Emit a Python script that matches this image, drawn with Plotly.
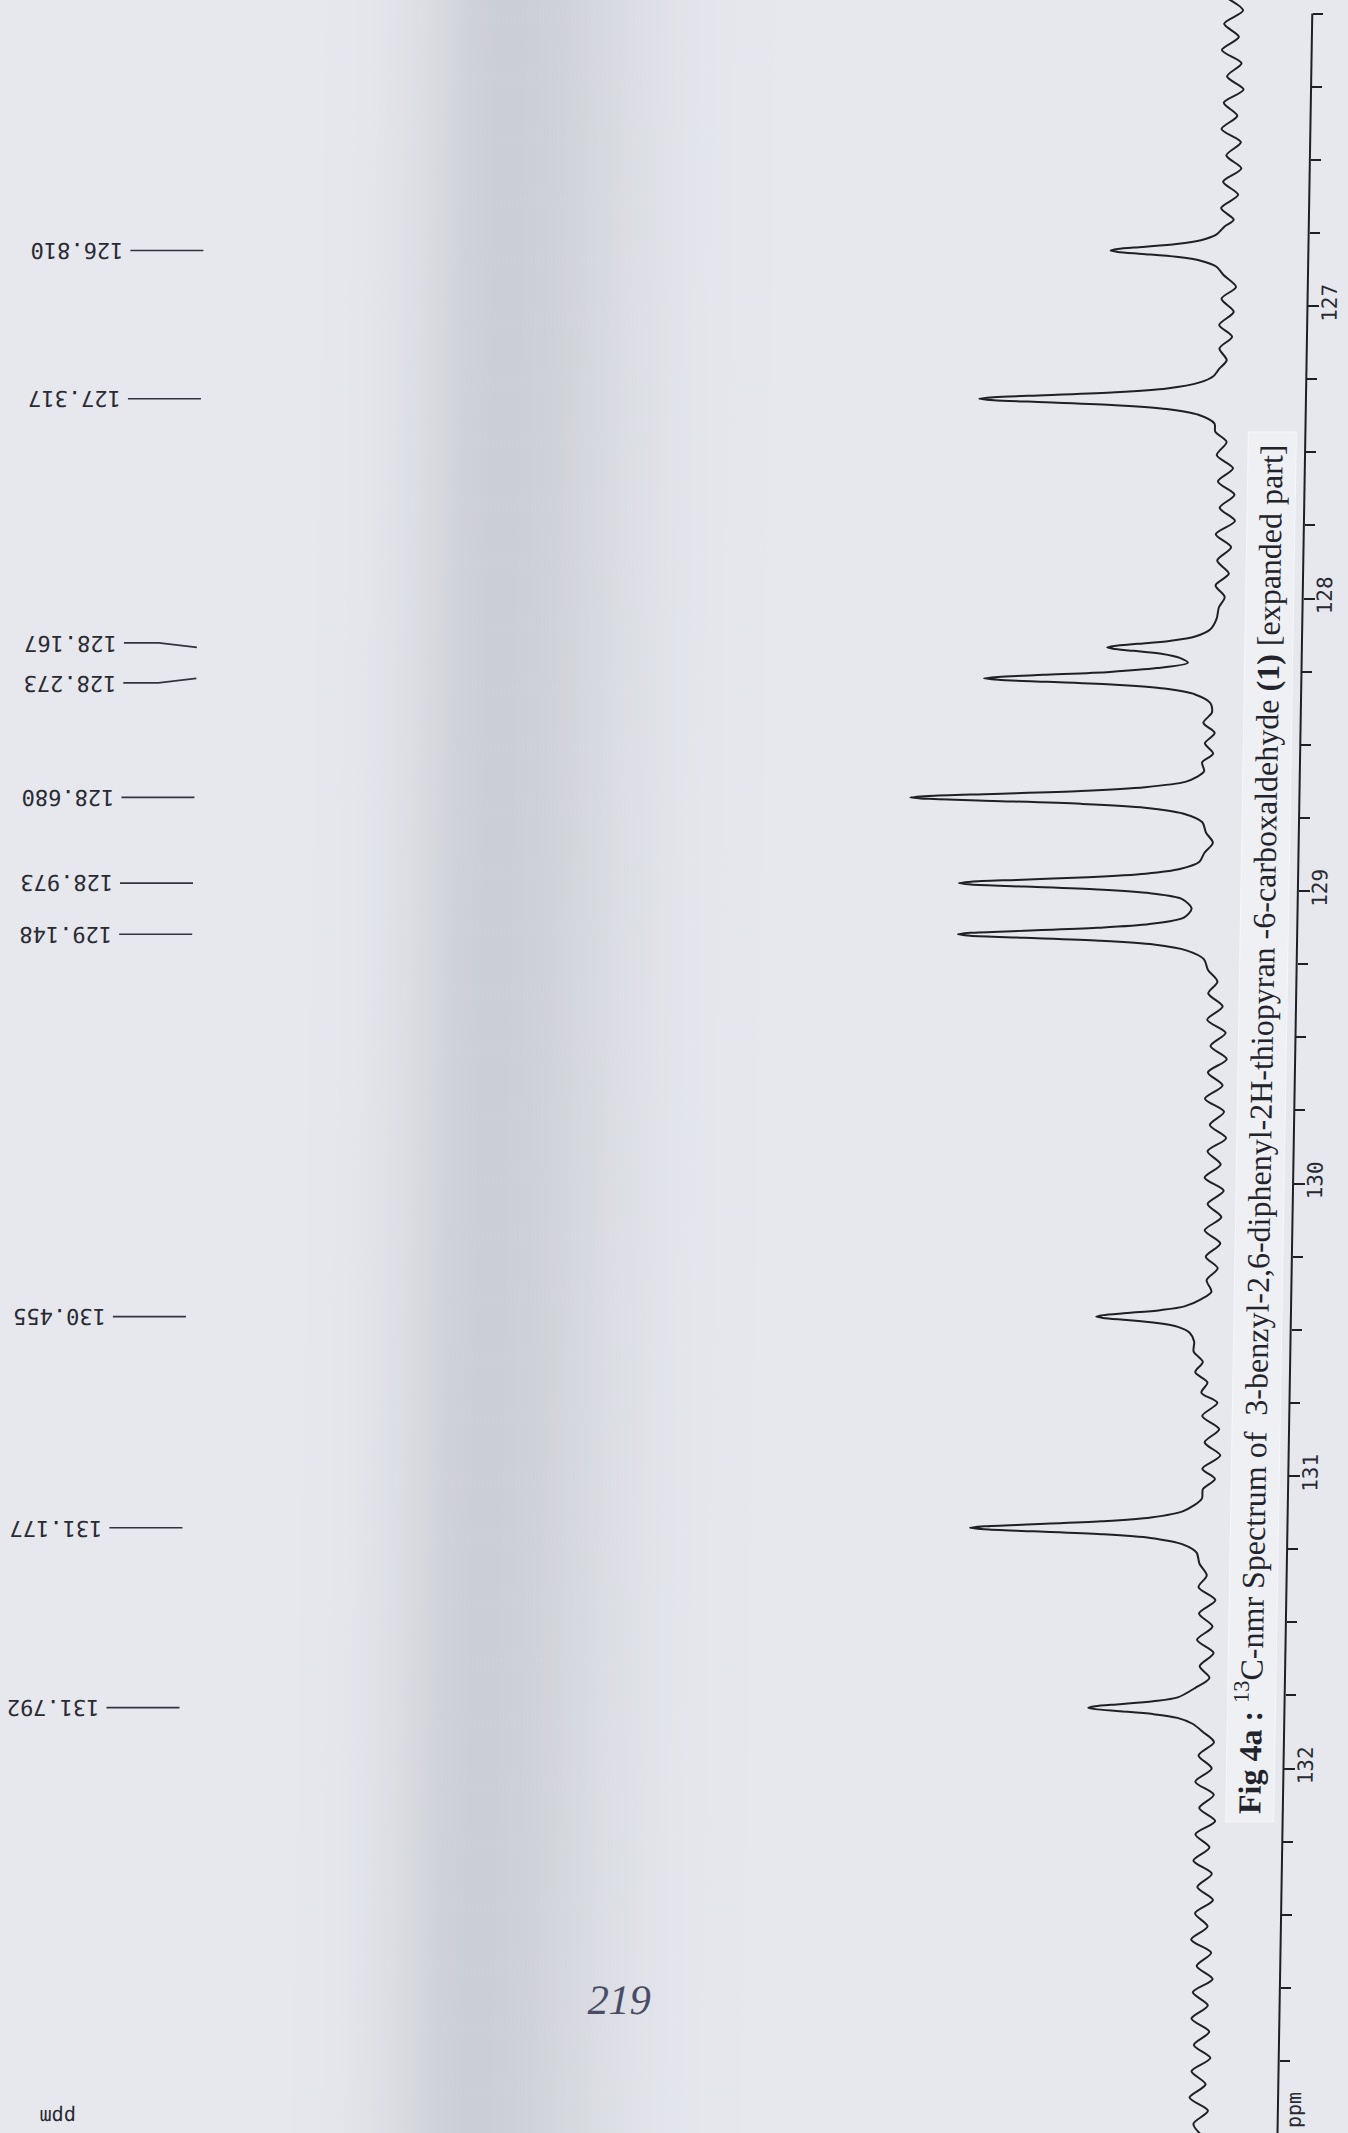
import math
import plotly.graph_objects as go

# ---------------------------------------------------------------------------
# 13C spectrum trace (expanded aromatic region): chemical shift / intensity
# ---------------------------------------------------------------------------
shift_ppm = [
    # 125.95 - 126.70 baseline
    125.950, 125.990, 126.035, 126.080, 126.125, 126.170, 126.215, 126.260, 126.305,
    126.350, 126.395, 126.440, 126.485, 126.530, 126.575, 126.620, 126.665, 126.705,
    # 126.810
    126.728, 126.755, 126.775, 126.788, 126.798, 126.805, 126.810, 126.815, 126.822,
    126.832, 126.845, 126.865, 126.895,
    # baseline
    126.935, 126.975, 127.020, 127.065, 127.105, 127.145, 127.185, 127.215, 127.240,
    # 127.317
    127.262, 127.282, 127.295, 127.305, 127.312, 127.317, 127.322, 127.329, 127.339,
    127.352, 127.372, 127.402,
    # baseline
    127.430, 127.465, 127.510, 127.555, 127.600, 127.645, 127.690, 127.735, 127.780,
    127.825, 127.870, 127.915, 127.955, 127.995, 128.030, 128.070,
    # 128.167 / 128.273
    128.105, 128.130, 128.145, 128.155, 128.162, 128.167, 128.172, 128.179, 128.189,
    128.203, 128.220, 128.238, 128.251, 128.261, 128.268, 128.273, 128.278, 128.285,
    128.295, 128.308, 128.328, 128.358,
    # raised region
    128.390, 128.425, 128.460, 128.495, 128.530, 128.560, 128.590, 128.610,
    # 128.680
    128.627, 128.645, 128.658, 128.668, 128.675, 128.680, 128.685, 128.692, 128.702,
    128.715, 128.735, 128.765,
    # valley
    128.800, 128.835, 128.870, 128.900,
    # 128.973 / 129.148
    128.925, 128.941, 128.953, 128.962, 128.968, 128.973, 128.978, 128.985, 128.995,
    129.008, 129.028, 129.060, 129.090, 129.113, 129.126, 129.136, 129.143, 129.148,
    129.153, 129.160, 129.170, 129.183, 129.203, 129.233, 129.270,
    # baseline
    129.310, 129.350, 129.395, 129.440, 129.485, 129.530, 129.575, 129.620, 129.665,
    129.710, 129.755, 129.800, 129.845, 129.890, 129.935, 129.980, 130.025, 130.070,
    130.115, 130.160, 130.205, 130.250, 130.290, 130.330, 130.370,
    # 130.455
    130.395, 130.420, 130.433, 130.443, 130.450, 130.455, 130.460, 130.467, 130.477,
    130.490, 130.510, 130.540,
    # baseline
    130.575, 130.610, 130.645, 130.680, 130.715, 130.750, 130.795, 130.840, 130.885,
    130.930, 130.975, 131.010, 131.045, 131.078,
    # 131.177
    131.120, 131.142, 131.155, 131.165, 131.172, 131.177, 131.182, 131.189, 131.199,
    131.212, 131.234, 131.262, 131.300,
    # baseline
    131.340, 131.380, 131.425, 131.470, 131.515, 131.560, 131.605, 131.650, 131.690,
    131.725,
    # 131.792
    131.757, 131.770, 131.780, 131.787, 131.792, 131.797, 131.804, 131.814, 131.827,
    131.847, 131.875,
    # baseline to end of sweep
    131.910, 131.955, 132.000, 132.045, 132.090, 132.135, 132.180, 132.225, 132.270,
    132.315, 132.360, 132.405, 132.450, 132.495, 132.540, 132.585, 132.630, 132.675,
    132.720, 132.765, 132.810, 132.855, 132.900, 132.945, 132.990, 133.035, 133.080,
    133.125, 133.170, 133.215, 133.260,
]

intensity = [
    2.0, -2.8, 3.2, -1.6, 3.8, -2.6, 2.0, -3.4, 2.9,
    -1.5, 3.5, -2.8, 1.8, -3.1, 2.7, -2.2, 3.2, -0.9,
    2.0, 4.5, 9.5, 17.4, 28.3, 36.2, 38.5, 36.2, 28.3,
    17.4, 9.5, 4.5, 2.0,
    -2.0, 2.6, -1.4, 3.2, -1.0, 3.0, 0.6, 3.0, 4.8,
    9.4, 19.7, 36.2, 58.8, 75.3, 80.0, 75.3, 58.8, 36.2,
    19.7, 9.4, 4.2,
    3.9, 0.2, 3.3, -2.0, 2.8, -2.6, 2.1, -2.9, 3.2,
    -1.8, 2.6, -1.2, 3.0, 0.0, 1.8, 2.5,
    4.4, 9.3, 17.5, 27.7, 35.2, 37.5, 35.7, 29.0, 20.1,
    14.1, 11.5, 21.5, 36.5, 57.9, 72.4, 77.0, 72.4, 56.6,
    34.8, 18.9, 9.0, 4.0,
    3.5, 6.2, 2.5, 5.6, 2.9, 6.4, 5.7, 8.0,
    11.7, 24.6, 45.2, 73.5, 94.1, 100.0, 94.1, 73.5, 45.2,
    24.6, 12.3, 6.0,
    4.8, 2.5, 5.2, 6.7,
    13.0, 24.0, 42.5, 65.5, 80.0, 84.0, 80.0, 63.0, 39.4,
    22.4, 12.1, 9.0, 11.3, 22.4, 39.3, 62.8, 80.0, 84.0,
    80.0, 62.5, 38.5, 21.0, 10.5, 4.8, 3.4,
    0.3, 3.2, -1.5, 3.4, -2.6, 2.2, -3.1, 2.9, -1.9,
    3.7, -2.5, 2.0, -3.3, 2.6, -1.7, 3.4, -2.8, 2.3,
    -2.2, 3.1, -2.0, 2.6, -1.3, 2.2, 0.6,
    3.8, 9.2, 17.0, 27.6, 35.3, 37.5, 35.3, 27.6, 18.0,
    11.2, 7.4, 5.9,
    6.0, 3.0, 5.4, 1.4, 3.3, -1.9, 2.9, -2.6, 2.0,
    -3.1, 2.6, -1.5, 2.3, 2.6,
    8.5, 18.9, 34.8, 56.6, 72.4, 77.0, 72.4, 56.6, 34.8,
    18.9, 8.5, 4.0, 3.0,
    0.6, 3.2, -2.3, 2.9, -1.5, 3.4, -2.0, 2.4, -0.8,
    3.8,
    9.3, 17.2, 27.9, 35.8, 38.0, 35.8, 27.9, 17.2, 9.3,
    4.4, 1.0,
    -2.6, 2.3, -2.0, 3.2, -2.8, 1.8, -3.4, 2.9, -1.7,
    3.4, -2.6, 2.0, -3.1, 2.6, -1.5, 3.7, -2.8, 1.8,
    -3.4, 2.9, -2.0, 3.2, -2.6, 2.3, -3.1, 2.9, -1.7,
    3.4, -2.6, 2.0, -1.3,
]
assert len(shift_ppm) == len(intensity)

# picked peak list
peak_ppm = [126.810, 127.317, 128.167, 128.273, 128.680,
            128.973, 129.148, 130.455, 131.177, 131.792]
peak_labels = ["126.810", "127.317", "128.167", "128.273", "128.680",
               "128.973", "129.148", "130.455", "131.177", "131.792"]

# shift axis ticks
major_ticks = [127, 128, 129, 130, 131, 132]
major_tick_text = ["127", "128", "129", "130", "131", "132"]
minor_step = 0.25

caption = ("<b>Fig 4a :</b> <sup>13</sup>C-nmr Spectrum of  3-benzyl-2,6-diphenyl-2H-thiopyran "
           "-6-carboxaldehyde <b>(1)</b> [expanded part]")
page_number = "219"

# ---------------------------------------------------------------------------
# page geometry (pixels)
# ---------------------------------------------------------------------------
W, H = 1348, 2133
AXIS_PX = 1295             # shift axis line
PX_PER_PPM = 292.5
PPM_AT_Y = (127.0, 306.0)  # 127 ppm sits at this height
BASE_PX = 1217             # zero-intensity line
PX_PER_UNIT = 3.11
PAGE_SKEW_DEG = -0.94      # the printed page is sheared slightly

ppm_top = PPM_AT_Y[0] - PPM_AT_Y[1] / PX_PER_PPM
ppm_bottom = PPM_AT_Y[0] + (H - PPM_AT_Y[1]) / PX_PER_PPM
int_left = BASE_PX / PX_PER_UNIT
int_right = -(AXIS_PX - BASE_PX) / PX_PER_UNIT

INK = "#1f1f26"
PAPER = "#e6e8ee"
MONO = "DejaVu Sans Mono"


def px(xp):
    return xp / W


def py(yp):
    return 1 - yp / H


fig = go.Figure()

fig.add_trace(go.Scatter(
    x=intensity, y=shift_ppm, mode="lines",
    line=dict(color=INK, width=2, shape="spline", smoothing=0.8),
    hoverinfo="skip", showlegend=False,
))

shapes = []

# scanner shadow band across the page
for i in range(0, 120):
    x0 = 290 + i * 4
    c = x0 + 2
    sig = 90.0 if c < 490 else 135.0
    w = math.exp(-((c - 490) / sig) ** 2)
    r = round(230 - 26 * w)
    g = round(232 - 26 * w)
    b = round(238 - 25 * w)
    shapes.append(dict(type="rect", xref="paper", yref="paper",
                       x0=px(x0), x1=px(x0 + 4.5), y0=-0.02, y1=1.02,
                       fillcolor=f"rgb({r},{g},{b})", line=dict(width=0),
                       layer="below"))

# pasted caption strip
shapes.append(dict(type="rect", xref="paper", yref="paper",
                   x0=px(1238), x1=px(1286), y0=py(1822), y1=py(432),
                   fillcolor="#eef0f4", line=dict(color="#f5f6f9", width=1),
                   layer="below"))

# shift axis line
shapes.append(dict(type="line", xref="paper", yref="y",
                   x0=px(AXIS_PX), x1=px(AXIS_PX), y0=126.0, y1=ppm_bottom,
                   line=dict(color=INK, width=2)))

# peak labels: spread labels that would collide, keep leader ends on the peak
min_gap = 40 / PX_PER_PPM
label_pos = list(peak_ppm)
for i in range(1, len(label_pos)):
    gap = label_pos[i] - label_pos[i - 1]
    if gap < min_gap:
        mid = (label_pos[i] + label_pos[i - 1]) / 2
        label_pos[i - 1] = mid - min_gap / 2
        label_pos[i] = mid + min_gap / 2

annotations = []
for pk, lp, txt in zip(peak_ppm, label_pos, peak_labels):
    if abs(lp - pk) < 1e-9:
        shapes.append(dict(type="line", xref="paper", yref="y",
                           x0=px(117), x1=px(190), y0=pk, y1=pk,
                           line=dict(color="#33333d", width=1.6)))
    else:
        path = f"M {px(117)},{lp} L {px(152)},{lp} L {px(190)},{pk}"
        shapes.append(dict(type="path", xref="paper", yref="y", path=path,
                           line=dict(color="#33333d", width=1.6)))
    annotations.append(dict(
        x=px(112), y=lp, xref="paper", yref="y", text=txt, showarrow=False,
        textangle=180, xanchor="right", yanchor="middle",
        font=dict(family=MONO, size=22, color="#2a2a33"),
    ))

annotations += [
    dict(x=px(1259), y=py(1129), xref="paper", yref="paper", text=caption,
         showarrow=False, textangle=-90, xanchor="center", yanchor="middle",
         font=dict(family="Liberation Serif", size=32, color="#23232b")),
    dict(x=px(1311), y=py(2110), xref="paper", yref="paper", text="ppm",
         showarrow=False, textangle=-90, xanchor="center", yanchor="middle",
         font=dict(family=MONO, size=20, color="#2a2a33")),
    dict(x=px(75), y=py(2117), xref="paper", yref="paper", text="ppm",
         showarrow=False, textangle=180, xanchor="center", yanchor="middle",
         font=dict(family=MONO, size=20, color="#2a2a33")),
    dict(x=px(634), y=py(2000), xref="paper", yref="paper", text=page_number,
         showarrow=False, xanchor="center", yanchor="middle",
         font=dict(family="Liberation Serif", size=42, color="#4a4c66", style="italic")),
]

fig.update_layout(
    width=W, height=H,
    margin=dict(l=0, r=0, t=0, b=0),
    paper_bgcolor=PAPER, plot_bgcolor="rgba(0,0,0,0)",
    showlegend=False,
    shapes=shapes, annotations=annotations,
    xaxis=dict(domain=[0, AXIS_PX / W], range=[int_left, int_right],
               visible=False, fixedrange=True),
    yaxis=dict(range=[ppm_bottom, ppm_top], side="right", anchor="x",
               showline=False, showgrid=False, zeroline=False,
               ticks="outside", ticklen=11, tickwidth=2, tickcolor=INK,
               tickmode="array", tickvals=major_ticks, ticktext=major_tick_text,
               tickangle=-90, ticklabelstandoff=-8,
               tickfont=dict(family=MONO, size=21, color="#2a2a33"),
               minor=dict(ticks="outside", ticklen=10, tickwidth=2, tickcolor=INK,
                          tick0=126, dtick=minor_step),
               fixedrange=True),
)

# the printout is slightly sheared: axis leans from upper right to lower left
page_js = (
    "var gd=document.getElementById('{plot_id}');"
    "gd.style.transformOrigin='50% 50%';"
    f"gd.style.transform='skewX({PAGE_SKEW_DEG}deg)';"
    f"document.documentElement.style.background='{PAPER}';"
    f"document.body.style.background='{PAPER}';"
)

fig.write_html("out.html", post_script=page_js)
